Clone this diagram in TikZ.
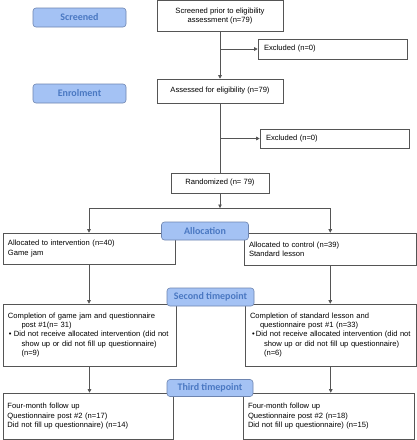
\documentclass[tikz,border=0pt]{standalone}
\usepackage{fontspec}
\setmainfont{Liberation Sans}
\newfontfamily\labfont{Carlito}
\usetikzlibrary{arrows.meta}
\definecolor{labfill}{HTML}{A4C2F4}
\definecolor{labdraw}{HTML}{6E85B0}
\definecolor{labtext}{HTML}{4A78C2}
\definecolor{boxdraw}{HTML}{555555}
\begin{document}
\begin{tikzpicture}[x=1pt,y=-1pt,
  box/.style={draw=boxdraw, line width=0.6pt, inner xsep=5pt, inner ysep=1pt,
    font=\fontsize{7.6}{9.3}\selectfont},
  lbox/.style={box, align=left},
  cbox/.style={box, align=center},
  lab/.style={draw=labdraw, fill=labfill, rounded corners=3pt, line width=0.6pt,
    font=\labfont\bfseries\fontsize{10}{12}\selectfont, text=labtext, inner sep=0pt},
  arr/.style={draw=boxdraw, line width=0.6pt, -{Triangle[length=3.5pt,width=3.5pt]}},
  ln/.style={draw=boxdraw, line width=0.6pt}]
\useasboundingbox (0,0) rectangle (417,440);
\fill[white] (0,0) rectangle (417,440);

% main boxes
\node[cbox, minimum width=126, minimum height=30.5] (scr) at (220,15.75)
  {Screened prior to eligibility\\assessment (n=79)};
\node[lbox, minimum width=149, minimum height=20, text width=137, inner xsep=6pt] (ex1) at (332.5,49)
  {Excluded (n=0)};
\node[cbox, minimum width=126, minimum height=24] (ass) at (220,91)
  {Assessed for eligibility (n=79)};
\node[lbox, minimum width=149, minimum height=19, text width=137, inner xsep=6pt] (ex2) at (334.5,138.5)
  {Excluded (n=0)};
\node[cbox, minimum width=98, minimum height=20] (rnd) at (220,183)
  {Randomized (n= 79)};

\node[lbox, minimum width=172, minimum height=31, text width=162] (al) at (89,248.5)
  {\mbox{Allocated to intervention (n=40)}\\\mbox{Game jam}};
\node[lbox, minimum width=172.5, minimum height=32, text width=162.5] (ar) at (330.25,249)
  {\mbox{Allocated to control (n=39)}\\\mbox{Standard lesson}};

\node[lbox, minimum width=173, minimum height=62, text width=163] (sl) at (89.5,335)
  {\mbox{Completion of game jam and questionnaire}\\
   \mbox{\hspace*{13.5pt}post \#1(n= 31)}\\
   \mbox{\hspace*{1pt}\makebox[5pt][l]{•}Did not receive allocated intervention (did not}\\
   \mbox{\hspace*{13.5pt}show up or did not fill up questionnaire)}\\
   \mbox{\hspace*{13.5pt}(n=9)}};
\node[lbox, minimum width=171.5, minimum height=62, text width=161.5] (sr) at (330.75,335)
  {\mbox{Completion of standard lesson and}\\
   \mbox{\hspace*{10pt}questionnaire post \#1 (n=33)}\\
   \mbox{\hspace*{2pt}\makebox[4pt][l]{•}Did not receive allocated intervention (did not}\\
   \mbox{\hspace*{14pt}show up or did not fill up questionnaire)}\\
   \mbox{\hspace*{14pt}(n=6)}};

\node[lbox, minimum width=170, minimum height=46.5, text width=161, inner xsep=4.5pt] (tl) at (88,416.25)
  {\mbox{Four-month follow up}\\\mbox{Questionnaire post \#2 (n=17)}\\\mbox{Did not fill up questionnaire) (n=14)}};
\node[lbox, minimum width=171, minimum height=46.5, text width=161, inner xsep=5pt] (tr) at (328.5,416.25)
  {\mbox{Four-month follow up}\\\mbox{Questionnaire post \#2 (n=18)}\\\mbox{Did not fill up questionnaire) (n=15)}};

% connectors
\coordinate (split) at (218,208);
\draw[arr] (scr.south) -- (ass.north);
\draw[arr] (scr.south |- ex1.west) -- (ex1.west);
\draw[ln] (ass.south) -- (rnd.north);
\draw[arr] (ass.south |- ex2.west) -- (ex2.west);
\draw[arr] (rnd.south) -- (rnd.south |- split);
\draw[ln] (al.north |- split) -- (ar.north |- split);
\draw[arr] (al.north |- split) -- (al.north);
\draw[arr] (ar.north |- split) -- (ar.north);
\draw[arr] (al.south) -- (al.south |- sl.north);
\draw[arr] (ar.south) -- (ar.south |- sr.north);
\draw[arr] (sl.south) -- (sl.south |- tl.north);
\draw[arr] (sr.south) -- (sr.south |- tr.north);

% stage labels
\node[lab, minimum width=93, minimum height=19] (lscr) at (79.5,17.5) {Screened};
\node[lab, minimum width=93, minimum height=19] (lenr) at (79.5,93.5) {Enrolment};
\node[lab, minimum width=87, minimum height=18] (lall) at (205,231) {Allocation};
\node[lab, minimum width=87, minimum height=18] (lsec) at (210.5,297) {Second timepoint};
\node[lab, minimum width=86, minimum height=17] (lthi) at (210,388) {Third timepoint};
\end{tikzpicture}
\end{document}
